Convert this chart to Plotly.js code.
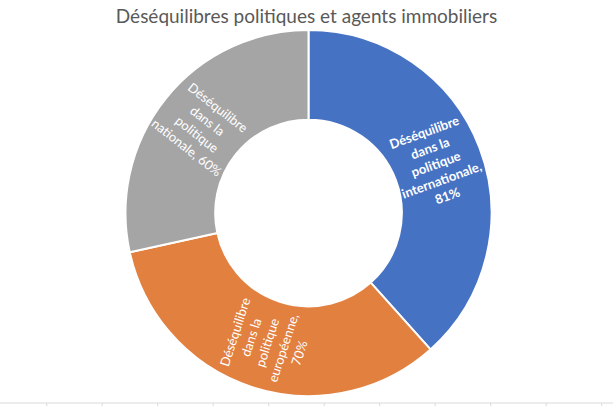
<!DOCTYPE html>
<html>
<head>
<meta charset="utf-8">
<script src="https://cdn.plot.ly/plotly-3.0.1.min.js"></script>
<style>
  html, body { margin: 0; padding: 0; background: #fff; }
  #chart { width: 613px; height: 406px; }
</style>
</head>
<body>
<div id="chart"></div>
<script>
const labels = [
  'Déséquilibre dans la politique internationale',
  'Déséquilibre dans la politique européenne',
  'Déséquilibre dans la politique nationale',
];
const labelLines = [
  ['Déséquilibre', 'dans la', 'politique', 'internationale,'],
  ['Déséquilibre', 'dans la', 'politique', 'européenne,'],
  ['Déséquilibre', 'dans la', 'politique', 'nationale, 60%'],
];
const values = [81, 70, 60];
const colors = ['#4672C4', '#E2803F', '#A5A5A5'];

const W = 613, H = 406;
const CX = 308.5, CY = 213;       // donut centre in px
const R_OUT = 183, HOLE = 0.51;
const LABEL_ANGLES = [-20, -72, 38];

const total = values.reduce((a, b) => a + b, 0);

// Build label annotations placed at the middle of each ring segment
const annotations = [];
let cum = 0;
values.forEach((v, i) => {
  const mid = (cum + v / 2) / total * 2 * Math.PI;   // clockwise from 12 o'clock
  cum += v;
  const r = R_OUT * (1 + HOLE) / 2 - 2;
  const lines = labelLines[i].slice();
  if (i < 2) lines.push(v + '%');
  const txt = i === 0 ? lines.map(l => '<b>' + l + '</b>').join('<br>') : lines.join('<br>');
  annotations.push({
    x: (CX + r * Math.sin(mid)) / W,
    y: 1 - (CY - r * Math.cos(mid)) / H,
    xref: 'paper', yref: 'paper',
    xanchor: 'center', yanchor: 'middle',
    text: txt,
    showarrow: false,
    textangle: LABEL_ANGLES[i],
    font: { family: 'Lato, sans-serif', size: 13, color: '#ffffff' },
    align: 'center',
  });
});

// Spreadsheet grid remnant along the bottom edge
const shapes = [{
  type: 'line', xref: 'paper', yref: 'paper',
  x0: 0, x1: 1, y0: 3 / H, y1: 3 / H,
  line: { color: '#D9D9D9', width: 1 },
}];
for (let x = 46.7; x < W; x += 55.5) {
  shapes.push({
    type: 'line', xref: 'paper', yref: 'paper',
    x0: x / W, x1: x / W, y0: 0, y1: 3 / H,
    line: { color: '#D9D9D9', width: 1 },
  });
}

const trace = {
  type: 'pie',
  labels,
  values,
  hole: HOLE,
  sort: false,
  direction: 'clockwise',
  rotation: 0,
  textinfo: 'none',
  hoverinfo: 'label+value',
  marker: { colors, line: { color: '#ffffff', width: 2 } },
  domain: {
    x: [(CX - R_OUT) / W, (CX + R_OUT) / W],
    y: [1 - (CY + R_OUT) / H, 1 - (CY - R_OUT) / H],
  },
};

const layout = {
  width: W,
  height: H,
  paper_bgcolor: '#ffffff',
  margin: { t: 0, r: 0, b: 0, l: 0 },
  showlegend: false,
  title: {
    text: 'Déséquilibres politiques et agents immobiliers',
    font: { family: 'Lato, sans-serif', size: 19, color: '#595959' },
    x: 0.5, xanchor: 'center',
    y: 1 - 16 / H, yanchor: 'middle',
  },
  annotations,
  shapes,
};

Plotly.newPlot('chart', [trace], layout, { displayModeBar: false, staticPlot: true });
</script>
</body>
</html>
